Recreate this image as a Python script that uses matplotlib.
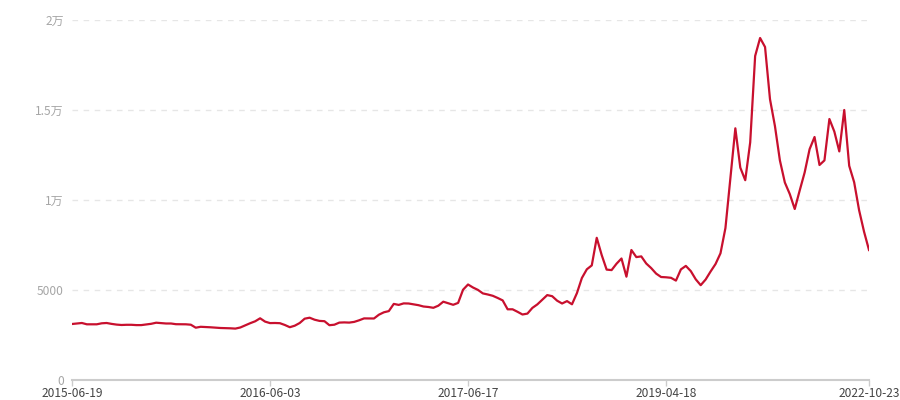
import matplotlib
matplotlib.use("Agg")
import matplotlib.pyplot as plt
from matplotlib.ticker import FixedLocator, FuncFormatter

plt.rcParams['font.family'] = ['Noto Sans CJK SC', 'DejaVu Sans']

values = [
    3111, 3139, 3167, 3094, 3094, 3094, 3150, 3167, 3117, 3078,
    3056, 3067, 3067, 3050, 3050, 3083, 3122, 3183, 3161, 3139,
    3139, 3100, 3094, 3094, 3072, 2906, 2956, 2944, 2928, 2906,
    2889, 2883, 2872, 2856, 2917, 3039, 3156, 3261, 3428, 3244,
    3161, 3167, 3156, 3056, 2933, 3017, 3167, 3406, 3461, 3350,
    3283, 3267, 3044, 3072, 3189, 3200, 3189, 3228, 3317, 3422,
    3417, 3417, 3628, 3761, 3828, 4228, 4172, 4256, 4250, 4206,
    4156, 4083, 4056, 4011, 4128, 4350, 4261, 4178, 4283, 5017,
    5306, 5139, 5006, 4811, 4750, 4678, 4556, 4422, 3928, 3928,
    3789, 3639, 3689, 4006, 4200, 4456, 4717, 4656, 4406, 4250,
    4383, 4206, 4828, 5667, 6150, 6367, 7900, 6944, 6133, 6106,
    6461, 6750, 5739, 7222, 6828, 6867, 6472, 6217, 5911, 5722,
    5706, 5678, 5522, 6144, 6339, 6050, 5594, 5267, 5583, 6028,
    6444, 7039, 8444, 11194, 13983, 11800, 11100, 13200, 18000, 19000,
    18500, 15600, 14106, 12200, 10972, 10328, 9500, 10528, 11528, 12822,
    13500, 11944, 12200, 14500, 13800, 12700, 15000, 11900, 10989, 9433,
    8239, 7222,
]

tick_index = [0, 40, 80, 120, 161]
tick_labels = ["2015-06-19", "2016-06-03", "2017-06-17", "2019-04-18", "2022-10-23"]

y_ticks = [0, 5000, 10000, 15000, 20000]
y_tick_labels = ["0", "5000", "1万", "1.5万", "2万"]

fig = plt.figure(figsize=(9, 4), dpi=100)
ax = fig.add_axes([72 / 900, 20 / 400, (869 - 72) / 900, 360 / 400])

x = list(range(len(values)))
ax.plot(x, values, color="#c8102e", linewidth=1.6, solid_joinstyle="round", zorder=3)

ax.set_xlim(0, len(values) - 1)
ax.set_ylim(0, 20000)

for v in y_ticks[1:]:
    ax.axhline(v, color="#e6e6e6", linewidth=1.0, linestyle=(0, (4, 4)), zorder=1)

ax.yaxis.set_major_locator(FixedLocator(y_ticks))
ax.yaxis.set_major_formatter(FuncFormatter(lambda v, p: y_tick_labels[y_ticks.index(int(v))] if int(v) in y_ticks else ""))
ax.tick_params(axis="y", length=0, pad=6, labelsize=8.6, labelcolor="#a6a6a6")

ax.set_xticks(tick_index)
ax.set_xticklabels(tick_labels)
ax.tick_params(axis="x", length=4, width=1, color="#cccccc", pad=1.2, labelsize=8.6, labelcolor="#444444")

for s in ["top", "right", "left"]:
    ax.spines[s].set_visible(False)
ax.spines["bottom"].set_color("#cccccc")
ax.spines["bottom"].set_linewidth(1.5)

fig.savefig("out.png", dpi=100)
